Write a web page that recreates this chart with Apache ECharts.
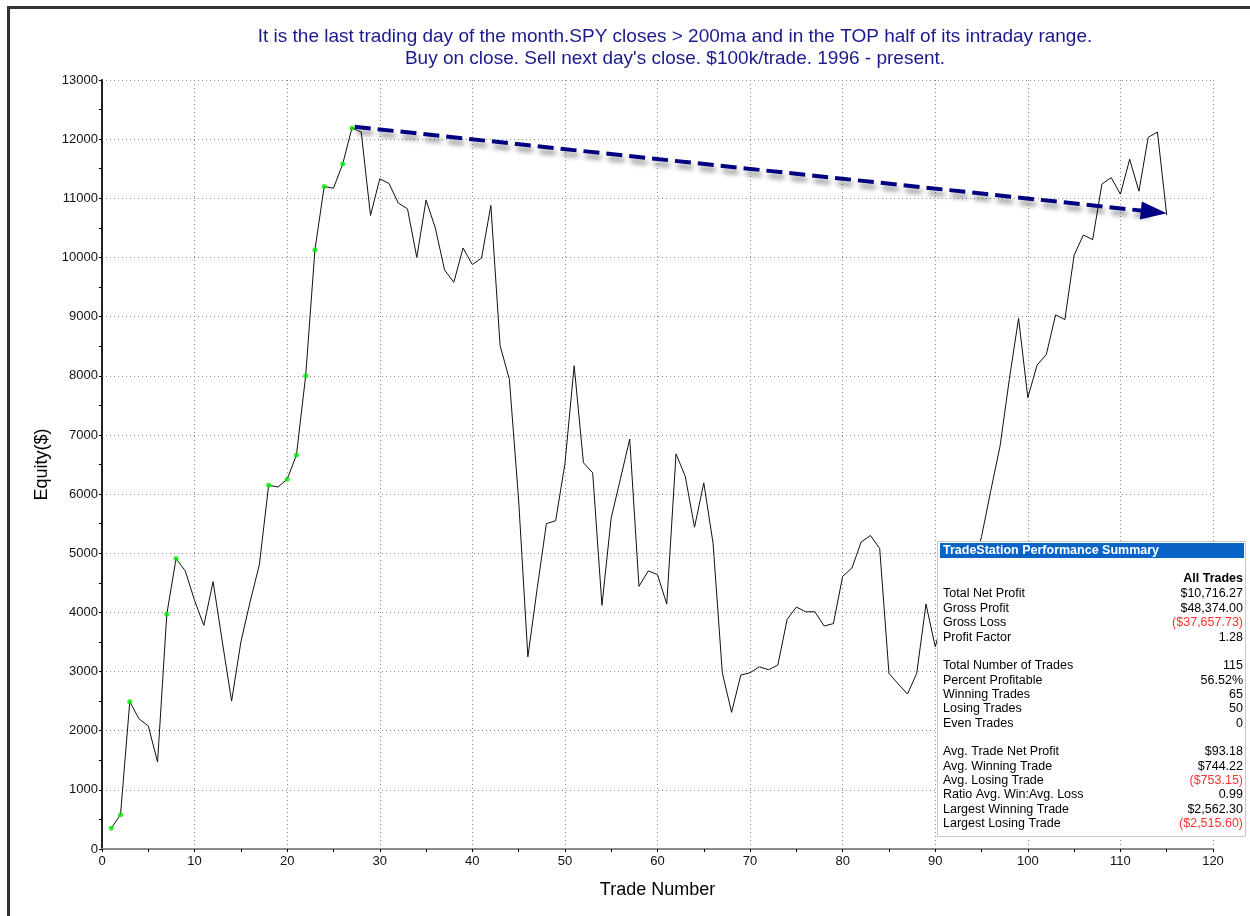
<!DOCTYPE html>
<html>
<head>
<meta charset="utf-8">
<script src="https://cdn.jsdelivr.net/npm/echarts@6/dist/echarts.min.js"></script>
<style>
html,body{margin:0;padding:0;background:#fff;}
#chart{width:1250px;height:916px;}
</style>
</head>
<body>
<div id="chart"></div>
<script>
// ---- data ----
var titleLines = [
  "It is the last trading day of the month.SPY closes > 200ma and in the TOP half of its intraday range.",
  "Buy on close. Sell next day's close. $100k/trade. 1996 - present."
];
var xAxisName = "Trade Number";
var yAxisName = "Equity($)";
var equity = [
  350, 580, 2490, 2200, 2080, 1470, 3970, 4910, 4700, 4200,
  3780, 4520, 3500, 2500, 3500, 4180, 4810, 6150, 6120, 6250,
  6660, 8000, 10130, 11200, 11170, 11580, 12190, 12120, 10710, 11330,
  11250, 10920, 10820, 10000, 10970, 10500, 9790, 9580, 10160, 9880,
  9990, 10880, 8510, 7940, 5900, 3250, 4400, 5500, 5550, 6510,
  8170, 6530, 6360, 4120, 5600, 6260, 6930, 4440, 4700, 4640,
  4140, 6680, 6300, 5440, 6190, 5170, 2980, 2310, 2940, 2980,
  3080, 3030, 3110, 3880, 4090, 4010, 4010, 3770, 3810, 4610,
  4750, 5190, 5300, 5080, 2970, 2790, 2620, 2970, 4140, 3420,
  4000, 4300, 4200, 4700, 5280, 6060, 6810, 7940, 8970, 7630,
  8180, 8360, 9030, 8950, 10040, 10380, 10300, 11240, 11350, 11070,
  11660, 11120, 12030, 12120, 10716
];
var arrowStart = [27.3, 12210];
var arrowEnd = [113.6, 10770];
var summaryTitle = "TradeStation Performance Summary";
var summaryColumn = "All Trades";
var summaryLabels = [
  "Total Net Profit", "Gross Profit", "Gross Loss", "Profit Factor", "",
  "Total Number of Trades", "Percent Profitable", "Winning Trades", "Losing Trades", "Even Trades", "",
  "Avg. Trade Net Profit", "Avg. Winning Trade", "Avg. Losing Trade", "Ratio Avg. Win:Avg. Loss",
  "Largest Winning Trade", "Largest Losing Trade"
];
var summaryValues = [
  "$10,716.27", "$48,374.00", "($37,657.73)", "1.28", "",
  "115", "56.52%", "65", "50", "0", "",
  "$93.18", "$744.22", "($753.15)", "0.99",
  "$2,562.30", "($2,515.60)"
];

// ---- build ----
var lineData = equity.map(function (v, i) { return [i + 1, v]; });
var highs = [];
var runMax = -Infinity;
equity.forEach(function (v, i) {
  if (v > runMax) { runMax = v; highs.push([i + 1, v]); }
});

var font = "'Liberation Sans', Arial, sans-serif";
var boxX = 937, boxY = 541, boxW = 308, boxH = 295;
var graphics = [
  { type: 'rect', z: 100, shape: { x: 8.5, y: 7.5, width: 1400, height: 1000 },
    style: { fill: 'none', stroke: '#333', lineWidth: 3 }, silent: true },
  { type: 'rect', z: 100, shape: { x: boxX + 0.5, y: boxY + 0.5, width: boxW, height: boxH },
    style: { fill: '#fff', stroke: '#c8c8c8', lineWidth: 1 } },
  { type: 'rect', z: 101, shape: { x: boxX + 3, y: boxY + 2, width: boxW - 4, height: 15 },
    style: { fill: '#0a64c8' } },
  { type: 'text', z: 102, x: boxX + 6, y: boxY + 9.5,
    style: { text: summaryTitle, fill: '#fff', font: 'bold 12.5px ' + font, textVerticalAlign: 'middle' } },
  { type: 'text', z: 102, x: boxX + 306, y: boxY + 38,
    style: { text: summaryColumn, fill: '#000', font: 'bold 12.5px ' + font, textAlign: 'right', textVerticalAlign: 'middle' } }
];
summaryLabels.forEach(function (lab, i) {
  var y = boxY + 53 + i * 14.35;
  if (lab) {
    graphics.push({ type: 'text', z: 102, x: boxX + 6, y: y,
      style: { text: lab, fill: '#000', font: '12.5px ' + font, textVerticalAlign: 'middle' } });
  }
  var val = summaryValues[i];
  if (val) {
    graphics.push({ type: 'text', z: 102, x: boxX + 306, y: y,
      style: { text: val, fill: val.charAt(0) === '(' ? '#ff3030' : '#000', font: '12.5px ' + font,
        textAlign: 'right', textVerticalAlign: 'middle' } });
  }
});

var chart = echarts.init(document.getElementById('chart'), null, { renderer: 'canvas' });
var splitStyle = { show: true, lineStyle: { color: '#8a8a8a', type: [1, 3], width: 1 } };
chart.setOption({
  animation: false,
  backgroundColor: '#fff',
  title: {
    text: titleLines.join('\n'),
    left: 670, top: 21, textAlign: 'center',
    textStyle: { color: '#1a1a8c', fontSize: 19, fontWeight: 'normal', fontFamily: font, lineHeight: 22 }
  },
  grid: { left: 102, right: 37, top: 80, bottom: 67 },
  xAxis: [{
    type: 'value', min: 0, max: 120, interval: 10,
    name: xAxisName, nameLocation: 'middle', nameGap: 32,
    nameTextStyle: { color: '#000', fontSize: 18, fontFamily: font },
    axisLine: { show: true, onZero: false, lineStyle: { color: '#000', width: 1 } },
    axisTick: { show: true, length: 3, lineStyle: { color: '#000' } },
    minorTick: { show: true, splitNumber: 2, length: 3, lineStyle: { color: '#000' } },
    axisLabel: { color: '#111', fontSize: 13, fontFamily: font, margin: 6 },
    splitLine: splitStyle
  }, {
    type: 'value', position: 'top', min: 0, max: 120,
    axisLine: { show: true, lineStyle: { color: '#8c8c8c', width: 2 } },
    axisTick: { show: false }, axisLabel: { show: false }, splitLine: { show: false }
  }],
  yAxis: [{
    type: 'value', min: 0, max: 13000, interval: 1000,
    name: yAxisName, nameLocation: 'middle', nameGap: 47,
    nameTextStyle: { color: '#000', fontSize: 18, fontFamily: font },
    axisLine: { show: true, onZero: false, lineStyle: { color: '#000', width: 1 } },
    axisTick: { show: true, length: 3, lineStyle: { color: '#000' } },
    minorTick: { show: true, splitNumber: 2, length: 3, lineStyle: { color: '#000' } },
    axisLabel: { color: '#111', fontSize: 13, fontFamily: font, margin: 4,
      formatter: function (v) { return String(v); } },
    splitLine: splitStyle
  }, {
    type: 'value', position: 'right', min: 0, max: 13000,
    axisLine: { show: true, lineStyle: { color: '#222', width: 2 } },
    axisTick: { show: false }, axisLabel: { show: false }, splitLine: { show: false }
  }],
  series: [{
    type: 'line', data: lineData, showSymbol: false, symbol: 'none',
    lineStyle: { color: '#111', width: 1 }, z: 3,
    markLine: {
      silent: true, animation: false,
      symbol: ['none', 'triangle'], symbolSize: [18, 26],
      label: { show: false },
      lineStyle: { color: '#000080', width: 4, type: [16, 7],
        shadowColor: 'rgba(0,0,0,0.45)', shadowBlur: 5, shadowOffsetY: 5, shadowOffsetX: 2 },
      data: [[{ coord: arrowStart }, { coord: arrowEnd }]]
    }
  }, {
    type: 'scatter', data: highs, symbol: 'circle', symbolSize: 5,
    itemStyle: { color: '#00ee00' }, z: 4
  }],
  graphic: graphics
});
</script>
</body>
</html>
